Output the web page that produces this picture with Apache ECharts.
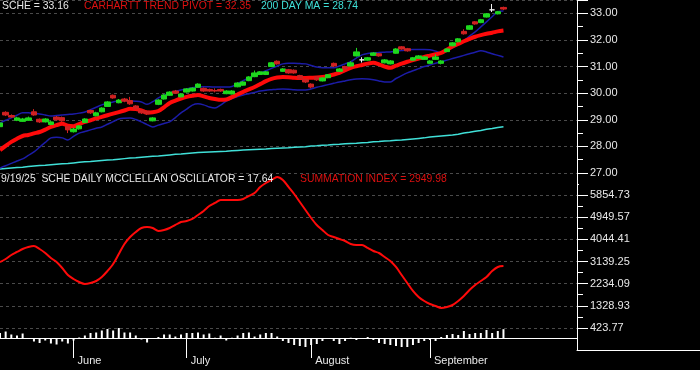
<!DOCTYPE html>
<html><head><meta charset="utf-8">
<script src="https://cdn.jsdelivr.net/npm/echarts@6/dist/echarts.min.js"></script>
<style>html,body{margin:0;padding:0;background:#000;}#c{width:700px;height:370px;}</style>
</head><body><div id="c"></div>
<script>
const dates = [
'2025-05-13','2025-05-14','2025-05-15','2025-05-16','2025-05-19','2025-05-20','2025-05-21','2025-05-22','2025-05-23','2025-05-27','2025-05-28','2025-05-29','2025-05-30',
'2025-06-02','2025-06-03','2025-06-04','2025-06-05','2025-06-06','2025-06-09','2025-06-10','2025-06-11','2025-06-12','2025-06-13','2025-06-16','2025-06-17','2025-06-18','2025-06-20','2025-06-23','2025-06-24','2025-06-25','2025-06-26','2025-06-27','2025-06-30',
'2025-07-01','2025-07-02','2025-07-03','2025-07-07','2025-07-08','2025-07-09','2025-07-10','2025-07-11','2025-07-14','2025-07-15','2025-07-16','2025-07-17','2025-07-18','2025-07-21','2025-07-22','2025-07-23','2025-07-24','2025-07-25','2025-07-28','2025-07-29','2025-07-30','2025-07-31',
'2025-08-01','2025-08-04','2025-08-05','2025-08-06','2025-08-07','2025-08-08','2025-08-11','2025-08-12','2025-08-13','2025-08-14','2025-08-15','2025-08-18','2025-08-19','2025-08-20','2025-08-21','2025-08-22','2025-08-25','2025-08-26','2025-08-27','2025-08-28','2025-08-29',
'2025-09-02','2025-09-03','2025-09-04','2025-09-05','2025-09-08','2025-09-09','2025-09-10','2025-09-11','2025-09-12','2025-09-15','2025-09-16','2025-09-17','2025-09-18','2025-09-19'];
const padSlots = 13;
const monthNames = {'06':'June','07':'July','08':'August','09':'September'};

const openP = [28.74,29.28,29.16,28.98,28.94,28.98,29.30,29.02,28.92,28.82,
29.10,29.08,28.75,28.55,28.66,28.90,29.35,29.15,29.30,29.50,
29.92,29.64,29.78,29.72,29.52,29.36,29.32,28.96,29.58,29.78,
29.92,30.08,29.86,30.04,30.08,30.22,30.18,30.14,30.10,30.14,
29.98,29.97,30.24,30.30,30.47,30.62,30.70,30.70,31.00,31.20,
30.82,30.88,30.86,30.66,30.52,30.34,30.60,30.46,30.58,31.12,
30.82,31.00,31.02,31.40,31.25,31.24,31.42,31.48,31.14,31.10,
31.50,31.74,31.67,31.24,31.31,31.27,31.12,31.27,31.12,31.56,
31.78,31.93,32.32,32.40,32.68,32.65,32.86,33.13,32.98,33.22];
const closeP = [28.88,29.18,29.10,29.07,29.03,29.07,29.18,28.92,29.03,28.92,
29.00,28.96,28.62,28.65,28.77,29.03,29.26,29.26,29.44,29.67,
29.82,29.74,29.70,29.60,29.41,29.26,29.22,29.07,29.74,29.93,
30.04,30.00,29.97,30.16,30.19,30.34,30.08,30.08,30.08,30.08,
30.08,30.08,30.38,30.42,30.61,30.76,30.80,30.80,31.14,31.10,
30.91,30.76,30.76,30.54,30.42,30.23,30.50,30.57,30.69,31.02,
30.91,30.91,31.14,31.55,31.25,31.33,31.51,31.40,31.25,31.21,
31.66,31.66,31.59,31.33,31.40,31.36,31.21,31.36,31.21,31.66,
31.89,32.04,32.23,32.53,32.60,32.76,32.98,33.13,33.06,33.16];
const highP = [28.95,29.32,29.20,29.11,29.07,29.12,29.40,29.05,29.06,28.96,
29.14,29.12,28.78,28.70,28.80,29.06,29.38,29.30,29.47,29.70,
29.95,29.78,29.82,29.86,29.55,29.40,29.35,29.10,29.77,29.96,
30.07,30.12,30.00,30.19,30.22,30.37,30.21,30.17,30.18,30.17,
30.11,30.11,30.41,30.45,30.64,30.85,30.83,30.83,31.17,31.23,
30.94,30.91,30.89,30.69,30.55,30.37,30.63,30.60,30.72,31.15,
30.94,31.03,31.20,31.70,31.35,31.36,31.54,31.51,31.28,31.24,
31.69,31.77,31.70,31.36,31.43,31.39,31.24,31.46,31.24,31.69,
31.92,32.07,32.40,32.56,32.71,32.79,33.01,33.35,33.09,33.25];
const lowP = [28.70,29.14,29.07,28.95,28.92,28.96,29.15,28.88,28.90,28.80,
28.97,28.92,28.50,28.52,28.63,28.88,29.22,29.13,29.28,29.48,
29.79,29.62,29.66,29.56,29.38,29.22,29.18,28.94,29.55,29.76,
29.90,29.97,29.84,30.02,30.06,30.20,30.05,30.05,30.03,30.05,
29.96,29.95,30.22,30.28,30.45,30.60,30.68,30.68,30.98,31.07,
30.80,30.73,30.73,30.50,30.38,30.18,30.46,30.44,30.56,30.98,
30.80,30.88,31.00,31.38,31.15,31.22,31.40,31.37,31.12,31.08,
31.48,31.63,31.56,31.22,31.29,31.25,31.10,31.25,31.08,31.54,
31.76,31.91,32.20,32.38,32.57,32.63,32.84,33.05,32.96,33.12];

const trendPivot = [27.86,28.02,28.17,28.29,28.39,28.43,28.49,28.54,28.63,28.73,
28.80,28.85,28.78,28.76,28.84,28.92,28.98,29.05,29.11,29.17,
29.23,29.29,29.35,29.41,29.40,29.35,29.27,29.28,29.33,29.47,
29.63,29.72,29.80,29.86,29.90,29.93,29.88,29.82,29.78,29.75,
29.76,29.85,29.95,30.05,30.14,30.23,30.34,30.45,30.54,30.59,
30.61,30.60,30.58,30.57,30.57,30.58,30.59,30.61,30.65,30.70,
30.76,30.86,30.95,31.01,31.06,31.11,31.14,31.08,31.00,30.95,
31.03,31.11,31.18,31.24,31.30,31.36,31.41,31.46,31.51,31.63,
31.75,31.85,31.95,32.04,32.12,32.18,32.23,32.27,32.32,32.35];
const upperBand = [28.88,28.98,29.07,29.17,29.26,29.26,29.24,29.22,29.18,29.14,
29.16,29.18,29.20,29.22,29.25,29.29,29.38,29.47,29.56,29.62,
29.67,29.71,29.72,29.71,29.70,29.67,29.58,29.68,29.82,29.92,
30.01,30.07,30.12,30.16,30.20,30.23,30.24,30.24,30.23,30.23,
30.23,30.25,30.36,30.47,30.57,30.66,30.75,30.84,30.93,31.02,
31.10,31.12,31.12,31.11,31.10,31.04,30.98,30.95,30.95,30.95,
31.02,31.10,31.18,31.32,31.44,31.49,31.51,31.53,31.54,31.55,
31.58,31.60,31.63,31.64,31.64,31.64,31.63,31.58,31.51,31.60,
31.70,31.83,31.97,32.14,32.30,32.49,32.68,32.87,33.06,33.09];
const lowerBand = [27.19,27.27,27.36,27.45,27.53,27.66,27.79,27.97,28.15,28.32,
28.34,28.32,28.24,28.38,28.50,28.56,28.62,28.68,28.73,28.83,
28.93,29.03,29.06,29.07,29.01,28.92,28.82,28.73,28.80,28.86,
28.92,29.08,29.26,29.40,29.55,29.60,29.56,29.48,29.44,29.55,
29.70,29.80,29.87,29.93,29.98,30.03,30.08,30.11,30.13,30.15,
30.16,30.15,30.13,30.12,30.12,30.16,30.22,30.27,30.32,30.37,
30.42,30.46,30.50,30.53,30.54,30.53,30.50,30.46,30.42,30.42,
30.55,30.66,30.76,30.84,30.92,31.00,31.06,31.12,31.18,31.24,
31.30,31.36,31.42,31.48,31.54,31.59,31.55,31.48,31.42,31.36];
const ma200 = [27.15,27.17,27.19,27.21,27.22,27.24,27.26,27.28,27.29,27.31,
27.33,27.35,27.36,27.38,27.40,27.42,27.43,27.45,27.47,27.49,
27.50,27.52,27.54,27.56,27.57,27.59,27.61,27.63,27.64,27.66,
27.68,27.70,27.71,27.73,27.75,27.77,27.78,27.79,27.80,27.81,
27.82,27.84,27.85,27.86,27.87,27.88,27.89,27.90,27.92,27.93,
27.94,27.95,27.97,27.98,27.99,28.01,28.02,28.04,28.05,28.07,
28.08,28.10,28.11,28.12,28.14,28.15,28.17,28.18,28.20,28.21,
28.23,28.24,28.26,28.28,28.30,28.32,28.35,28.37,28.39,28.41,
28.43,28.46,28.50,28.53,28.57,28.60,28.64,28.67,28.71,28.74];

const summation = [3118.6,3241.0,3404.4,3526.9,3649.3,3731.0,3771.8,3649.3,3486.0,3281.9,
3118.6,2873.6,2587.8,2424.4,2301.9,2220.3,2261.1,2342.8,2506.1,2751.1,
3036.9,3445.2,3853.5,4139.3,4343.4,4506.8,4547.6,4506.8,4384.3,4425.1,
4506.8,4629.3,4751.8,4792.6,4874.2,5037.6,5200.9,5405.0,5527.5,5650.0,
5650.0,5650.0,5650.0,5690.8,5813.3,5935.8,6180.8,6344.1,6466.6,6589.1,
6466.6,6180.8,5895.0,5568.4,5241.7,4915.1,4629.3,4425.1,4221.0,4139.3,
4057.6,3976.0,3853.5,3812.7,3812.7,3690.2,3567.7,3486.0,3322.7,3159.4,
2914.4,2587.8,2261.1,1934.5,1689.5,1526.2,1403.7,1322.0,1240.4,1281.2,
1362.9,1526.2,1730.3,1975.3,2179.5,2342.8,2506.1,2751.1,2914.4,2949.98];
const oscillator = [10,13,7,5,9,-1,-7,-10,-5,-11,
-13,-7,-11,-5,1,5,10,11,15,18,
15,20,11,11,5,-3,-9,-2,2,7,
7,3,7,10,10,11,7,9,0.5,5,
-5,0.5,5,10,11,3,7,10,10,3,
-6,-10,-14,-16,-18,-14,-12,-6,-2,-6,
-12,-6,0.5,-4,-2,2,-4,-10,-12,-14,
-16,-18,-18,-14,-10,-6,-4,-6,2,6,
8,6,14,8,10,10,16,10,14,17.64];

const priceAxis = {min:27, max:33.5, step:1};
const sumAxis = {min:423.77, max:6759.89, step:905.16};
const oscAxis = {min:-24, max:24};

const FONT = '"Liberation Sans", Arial, sans-serif';
const WHITE = '#e8e8e8';
const GRIDC = '#4a4a4a';
const TFS = 10.4;

const cats = dates.concat(new Array(padSlots).fill(''));
function isMonthStart(i){ return i>0 && i<dates.length && dates[i].slice(5,7)!==dates[i-1].slice(5,7); }
const candleData = dates.map((d,i)=>{
  const item = {value:[openP[i], closeP[i], lowP[i], highP[i]]};
  if (openP[i] === closeP[i]) item.itemStyle = {color:'#f2f2f2', borderColor:'#f2f2f2'};
  return item;
});
const last = a => a[a.length-1];
const ld = last(dates).split('-');
const shortDate = (+ld[1]) + '/' + (+ld[2]) + '/' + ld[0].slice(2);

function yAxisCommon(extra){
  return Object.assign({
    type:'value', position:'right',
    axisLine:{show:true, lineStyle:{color:'#ffffff', width:1}},
    axisTick:{show:true, length:11, lineStyle:{color:'#ffffff'}},
    minorTick:{show:true, splitNumber:2, length:6, lineStyle:{color:'#ffffff'}},
    axisLabel:{color:WHITE, fontSize:11, fontFamily:FONT, margin:13, showMaxLabel:false, formatter:v=>v.toFixed(2)},
    splitLine:{show:true, lineStyle:{color:GRIDC, type:[3,3], width:1}}
  }, extra);
}
const hiddenX = gi => ({gridIndex:gi, type:'category', data:cats, boundaryGap:false, show:false});
const ts = c => ({color:c, fontSize:TFS, fontWeight:'normal', fontFamily:FONT});

const chart = echarts.init(document.getElementById('c'), null, {renderer:'canvas'});
chart.setOption({
  backgroundColor:'#000000',
  animation:false,
  title:[
    {text:'SCHE = '+last(closeP).toFixed(2), left:2, top:1, padding:0, textStyle:ts(WHITE)},
    {text:'CARHARTT TREND PIVOT = '+last(trendPivot).toFixed(2), left:84, top:1, padding:0, textStyle:ts('#dd1010')},
    {text:'200 DAY MA = '+last(ma200).toFixed(2), left:261, top:1, padding:0, textStyle:ts('#40e0d8')},
    {text:shortDate+'  SCHE DAILY MCCLELLAN OSCILLATOR = '+last(oscillator).toFixed(2), left:1, top:174, padding:0, textStyle:ts(WHITE)},
    {text:'SUMMATION INDEX = '+last(summation).toFixed(2), left:300, top:174, padding:0, textStyle:ts('#dd1010')}
  ],
  grid:[
    {left:0, right:123, top:0, height:173},
    {left:0, right:123, top:172.8, height:155.2},
    {left:0, right:123, top:326, height:24},
    {left:577, right:0, top:349, height:1}
  ],
  xAxis:[
    hiddenX(0), hiddenX(1),
    {gridIndex:2, type:'category', data:cats, boundaryGap:false,
     axisLine:{show:true, lineStyle:{color:'#ffffff'}},
     axisTick:{show:true, length:20, interval:(i)=>isMonthStart(i), lineStyle:{color:'#ffffff'}},
     axisLabel:{show:true, interval:(i)=>isMonthStart(i), align:'left', margin:5, padding:[0,0,0,4],
       color:WHITE, fontSize:11, fontFamily:FONT, formatter:(v,i)=>monthNames[dates[i].slice(5,7)]||''},
     splitLine:{show:false}},
    {gridIndex:3, type:'value', min:0, max:1, axisLine:{show:true, lineStyle:{color:'#ffffff'}}, axisTick:{show:false}, axisLabel:{show:false}, splitLine:{show:false}}
  ],
  yAxis:[
    yAxisCommon({gridIndex:0, min:priceAxis.min, max:priceAxis.max, interval:priceAxis.step}),
    yAxisCommon({gridIndex:1, min:sumAxis.min, max:sumAxis.max, interval:sumAxis.step}),
    {gridIndex:2, type:'value', position:'right', min:oscAxis.min, max:oscAxis.max,
     axisLine:{show:true, lineStyle:{color:'#ffffff'}}, axisTick:{show:false}, axisLabel:{show:false}, splitLine:{show:false}},
    {gridIndex:3, type:'value', show:false}
  ],
  series:[
    {type:'line', name:'200 DAY MA', xAxisIndex:0, yAxisIndex:0, data:ma200, symbol:'none', lineStyle:{color:'#40e0d8', width:1.5}, z:2},
    {type:'line', name:'upper', xAxisIndex:0, yAxisIndex:0, data:upperBand, symbol:'none', smooth:0.3, lineStyle:{color:'#1c1ca8', width:1.5}, z:2},
    {type:'line', name:'lower', xAxisIndex:0, yAxisIndex:0, data:lowerBand, symbol:'none', smooth:0.3, lineStyle:{color:'#1c1ca8', width:1.5}, z:2},
    {type:'line', name:'pivot', xAxisIndex:0, yAxisIndex:0, data:trendPivot, symbol:'none', smooth:0.3, lineStyle:{color:'#ff0a0a', width:4}, z:3},
    {type:'candlestick', name:'SCHE', xAxisIndex:0, yAxisIndex:0, data:candleData, barWidth:6,
     itemStyle:{color:'#1ed81e', color0:'#d02222', borderColor:'#1ed81e', borderColor0:'#d02222', borderWidth:1}, z:5},
    {type:'line', name:'summation', xAxisIndex:1, yAxisIndex:1, data:summation, symbol:'none', smooth:0.3, lineStyle:{color:'#ff0a0a', width:2}, z:3},
    {type:'bar', name:'osc', xAxisIndex:2, yAxisIndex:2, data:oscillator, barWidth:2, itemStyle:{color:'#ffffff'},
     markLine:{silent:true, symbol:'none', label:{show:false}, lineStyle:{color:'#ffffff', type:'solid', width:1}, data:[{yAxis:0}]}, z:3}
  ],
  graphic:[
    {type:'rect', left:579, top:176, shape:{width:121, height:12}, style:{fill:'#000000'}, z:100}
  ]
});
</script></body></html>
